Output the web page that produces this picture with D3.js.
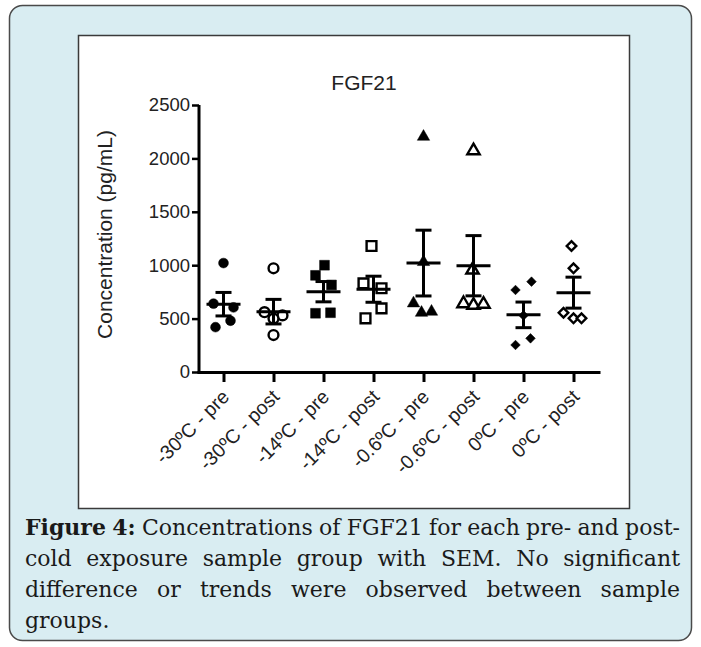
<!DOCTYPE html>
<html>
<head>
<meta charset="utf-8">
<script src="https://cdn.jsdelivr.net/npm/d3@7"></script>
<style>
  html, body { margin: 0; padding: 0; background: #ffffff; }
  svg { display: block; }
</style>
</head>
<body>
<svg id="chart" width="701" height="647"></svg>
<script>
// ---------------- DATA ----------------
const title = "FGF21";
const yLabel = "Concentration (pg/mL)";
const categories = ["-30ºC - pre", "-30ºC - post", "-14ºC - pre", "-14ºC - post",
                    "-0.6ºC - pre", "-0.6ºC - post", "0ºC - pre", "0ºC - post"];
const yTicks = [0, 500, 1000, 1500, 2000, 2500];
// individual sample values (pg/mL), one array per group
const g30pre   = [1020, 640, 605, 480, 420];
const g30post  = [971, 560, 530, 500, 346];
const g14pre   = [1000, 905, 815, 555, 550];
const g14post  = [1180, 830, 784, 596, 503];
const g06pre   = [2203, 1030, 643, 555, 565];
const g06post  = [2072, 955, 640, 625, 635];
const g0pre    = [846, 768, 530, 315, 253];
const g0post   = [1180, 971, 555, 503, 503];
const groupValues = [g30pre, g30post, g14pre, g14post, g06pre, g06post, g0pre, g0post];
// group mean and SEM as plotted
const means = [635, 565, 752, 775, 1020, 995, 535, 743];
const sems  = [110, 115, 95, 122, 308, 282, 120, 145];
const captionBold = "Figure 4:";
const captionLines = [
  "Concentrations of FGF21 for each pre- and post-",
  "cold exposure sample group with SEM. No significant",
  "difference or trends were observed between sample",
  "groups."
];

// ---------------- LAYOUT / STYLE ----------------
const svg = d3.select("#chart");
// scatter jitter for overlapping points (px), per group, per point
const jitter = [
  [0, -10, 10, 7, -8],
  [0, -9, 9, 0, 0],
  [1, -8, 8, 7, -8],
  [-2, -10, 8, 8, -8],
  [0, 0, -10, -2, 8],
  [0, -1, -10, 0, 10],
  [8, -8, 0, 7, -8],
  [-2, 0, -10, 0, 8]
];
const markerShape = ["circle", "circle", "square", "square", "triangle", "triangle", "diamond", "diamond"];
const markerFilled = [true, false, true, false, true, false, true, false];

// outer panel
svg.append("rect")
  .attr("x", 9.5).attr("y", 5.5).attr("width", 682).attr("height", 635)
  .attr("rx", 13).attr("ry", 13)
  .attr("fill", "#d9edf2").attr("stroke", "#4a4a4a").attr("stroke-width", 1.5);

// inner chart frame
svg.append("rect")
  .attr("x", 78.5).attr("y", 35.5).attr("width", 551).attr("height", 473)
  .attr("fill", "#ffffff").attr("stroke", "#3a3a3a").attr("stroke-width", 1.5);

const x = d3.scalePoint().domain(categories).range([197, 600]).padding(0.53);
const y = d3.scaleLinear().domain([0, 2500]).range([372, 105]);

const font = "'Liberation Sans', Arial, sans-serif";

// title
svg.append("text")
  .attr("x", 364).attr("y", 90)
  .attr("text-anchor", "middle")
  .attr("font-family", font).attr("font-size", 21).attr("fill", "#222")
  .text(title);

// y axis
const yAxis = svg.append("g")
  .attr("transform", "translate(199,0)")
  .call(d3.axisLeft(y).tickValues(yTicks).tickFormat(d3.format("d")).tickSize(7).tickSizeOuter(0).tickPadding(2));
yAxis.attr("font-family", null).attr("font-size", null);
yAxis.select(".domain").attr("stroke", "#000").attr("stroke-width", 3)
  .attr("d", `M0,${y(0) + 1.5}V${y(2500)}`);
yAxis.selectAll(".tick line").attr("stroke", "#000").attr("stroke-width", 2.5);
yAxis.selectAll(".tick text").attr("font-family", font).attr("font-size", 18.5).attr("fill", "#222");

// x axis
const xAxis = svg.append("g")
  .attr("transform", "translate(0,372)")
  .call(d3.axisBottom(x).tickSize(10).tickSizeOuter(0).tickFormat(""));
xAxis.select(".domain").attr("stroke", "#000").attr("stroke-width", 3);
xAxis.selectAll(".tick line").attr("stroke", "#000").attr("stroke-width", 3);

// x labels rotated
svg.append("g").selectAll("text")
  .data(categories)
  .join("text")
  .attr("transform", d => `translate(${x(d) + 7},${398}) rotate(-45)`)
  .attr("text-anchor", "end")
  .attr("font-family", font).attr("font-size", 19.5).attr("fill", "#222")
  .text(d => d);

// y label
svg.append("text")
  .attr("transform", `translate(112,${y(1250) - 4}) rotate(-90)`)
  .attr("text-anchor", "middle")
  .attr("font-family", font).attr("font-size", 21).attr("fill", "#222")
  .text(yLabel);

// points
function symbolFor(shape) {
  if (shape === "circle") return d3.symbol(d3.symbolCircle, 76)();
  if (shape === "square") return d3.symbol(d3.symbolSquare, 96)();
  if (shape === "triangle") return d3.symbol(d3.symbolTriangle, 66)();
  return d3.symbol(d3.symbolSquare, 46)();
}
const pts = svg.append("g");
groupValues.forEach((vals, gi) => {
  const cat = categories[gi];
  const filled = markerFilled[gi];
  const shape = markerShape[gi];
  pts.selectAll(null)
    .data(vals)
    .join("path")
    .attr("d", symbolFor(shape))
    .attr("transform", (v, i) => `translate(${x(cat) + jitter[gi][i]},${y(v)})` + (shape === "diamond" ? " rotate(45)" : ""))
    .attr("fill", filled ? "#000" : "#fff")
    .attr("stroke", "#000")
    .attr("stroke-width", filled ? 0.5 : 2.4);
});

// mean and SEM bars
const bars = svg.append("g").attr("stroke", "#000").attr("stroke-width", 3).attr("fill", "none");
categories.forEach((cat, gi) => {
  const cx = x(cat);
  const m = means[gi], s = sems[gi];
  bars.append("line").attr("x1", cx).attr("x2", cx).attr("y1", y(m + s)).attr("y2", y(m - s));
  bars.append("line").attr("x1", cx - 17).attr("x2", cx + 17).attr("y1", y(m)).attr("y2", y(m));
  bars.append("line").attr("x1", cx - 8).attr("x2", cx + 8).attr("y1", y(m + s)).attr("y2", y(m + s));
  bars.append("line").attr("x1", cx - 8).attr("x2", cx + 8).attr("y1", y(m - s)).attr("y2", y(m - s));
});

// caption, justified
const capFont = "'DejaVu Serif', 'Liberation Serif', serif";
const capSize = 22;
const capLeft = 25, capRight = 680;
const capBase = [535, 566, 597, 628];
const measurer = svg.append("text").attr("font-family", capFont).attr("font-size", capSize).attr("visibility", "hidden");
function wordWidth(w, bold) {
  measurer.attr("font-weight", bold ? "bold" : "normal").text(w);
  return measurer.node().getComputedTextLength();
}
const cap = svg.append("g").attr("font-family", capFont).attr("font-size", capSize).attr("fill", "#1a1a1a");
captionLines.forEach((line, li) => {
  let words = line.split(" ").map(w => ({ w, bold: false }));
  if (li === 0) words = captionBold.split(" ").map(w => ({ w, bold: true })).concat(words);
  words.forEach(d => d.width = wordWidth(d.w, d.bold));
  const total = d3.sum(words, d => d.width);
  const justify = li < captionLines.length - 1;
  let gap = justify ? (capRight - capLeft - total) / (words.length - 1) : 6;
  let scaleX = 1;
  if (gap < 5) { // condense if line is too long for the box
    scaleX = (capRight - capLeft - 5 * (words.length - 1)) / total;
    gap = 5;
  }
  const lineG = cap.append("g").attr("transform", `translate(${capLeft},${capBase[li]}) scale(${scaleX},1)`);
  let cx = 0;
  words.forEach(d => {
    lineG.append("text")
      .attr("x", cx).attr("y", 0)
      .attr("font-weight", d.bold ? "bold" : "normal")
      .text(d.w);
    cx += d.width + gap / scaleX;
  });
});
measurer.remove();
</script>
</body>
</html>
